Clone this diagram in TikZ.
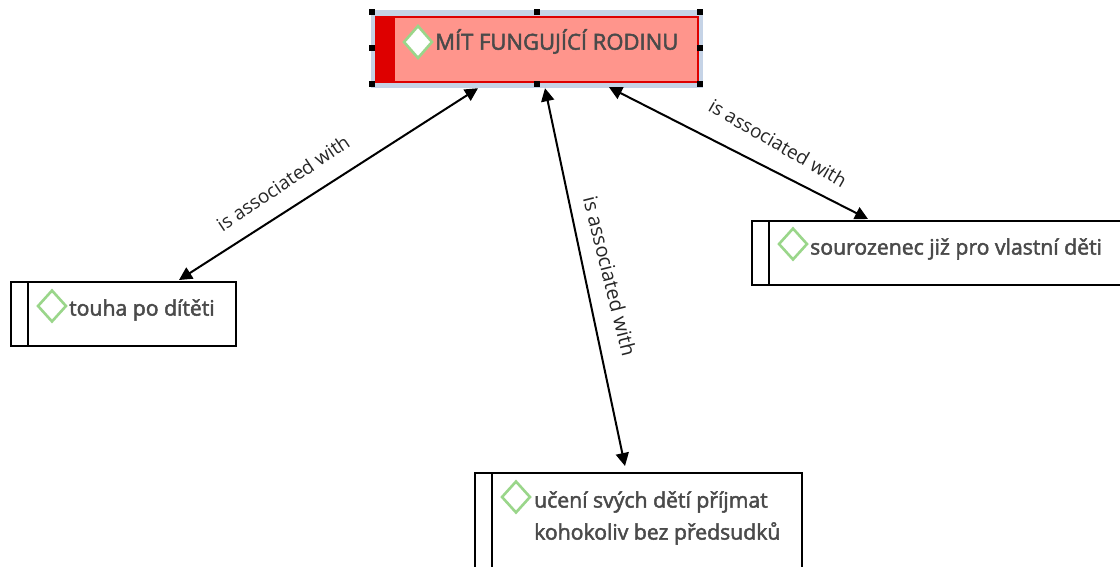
\documentclass[tikz,border=0pt]{standalone}
\usepackage{fontspec}
\setmainfont{Open Sans}
\newfontfamily\boxfont[FakeBold=2.2]{Open Sans}
\usetikzlibrary{arrows.meta,calc,shapes.geometric}
\definecolor{selblue}{HTML}{C5D3E6}
\definecolor{redbar}{HTML}{DE0000}
\definecolor{redfill}{HTML}{FF958C}
\definecolor{diag}{HTML}{9AD68A}
\definecolor{txt}{HTML}{4A4A4A}
\tikzset{
  x=1pt,y=-1pt,
  mapbox/.style={draw=black,line width=2pt,fill=white,rectangle,inner sep=0pt},
  handle/.style={fill=black,rectangle,inner sep=0pt,minimum size=6pt},
  gem/.style={diamond,draw=diag,line width=2.6pt,fill=white,inner sep=0pt,minimum width=29pt,minimum height=32pt,aspect=1},
  boxtext/.style={anchor=west,text=txt,font=\boxfont\fontsize{21.2}{32}\selectfont,inner sep=0pt,align=left},
  link/.style={draw=black,line width=2pt,{Triangle[length=13pt,width=13pt]}-{Triangle[length=13pt,width=13pt]}},
  linktext/.style={text=black!85,font=\fontsize{19}{22}\selectfont,inner sep=0pt},
  bar/.style={draw=black,line width=2pt}
}
\begin{document}
\begin{tikzpicture}
\useasboundingbox (0,0) rectangle (1120,566);
\clip (0,0) rectangle (1120,566);
% main node
\node[rectangle,fill=selblue,minimum width=332pt,minimum height=78pt,inner sep=0pt] (sel) at (537,49) {};
\node[rectangle,draw=redbar,line width=2pt,fill=redfill,minimum width=322pt,minimum height=65pt,inner sep=0pt] (main) at (537,49) {};
\fill[redbar] (main.north west) rectangle ($(main.south west)+(20,0)$);
\foreach \n/\px/\py in {h1/372/12,h2/537/12,h3/700/12,h4/372/48,h5/700/48,h6/372/84,h7/537/84,h8/700/84}
  \node[handle] (\n) at (\px,\py) {};
\node[gem,minimum width=29pt,minimum height=33pt] (gm) at (418,42) {};
\node[boxtext,font=\boxfont\fontsize{22}{29}\selectfont] (tm) at (435,41.5) {MÍT FUNGUJÍCÍ RODINU};
% left node
\node[mapbox,minimum width=225pt,minimum height=64pt] (left) at (123.5,314) {};
\draw[bar] ($(left.north west)+(18,0)$) -- ($(left.south west)+(18,0)$);
\node[gem] (gl) at (52,306) {};
\node[boxtext] (tl) at (69,310) {touha po dítěti};
% right node
\node[mapbox,minimum width=372pt,minimum height=64pt] (right) at (938,253) {};
\draw[bar] ($(right.north west)+(18,0)$) -- ($(right.south west)+(18,0)$);
\node[gem] (gr) at (793,244) {};
\node[boxtext] (tr) at (810,249) {sourozenec již pro vlastní děti};
% bottom node
\node[mapbox,minimum width=327pt,minimum height=120pt] (bottom) at (638.5,533) {};
\draw[bar] ($(bottom.north west)+(18,0)$) -- ($(bottom.south west)+(18,0)$);
\node[gem] (gb) at (516,497) {};
\node[boxtext] (tb) at (534,518) {učení svých dětí příjmat\\kohokoliv bez předsudků};
% connectors
\draw[link] ($(sel.south)+(-59,0)$) -- ($(left.north)+(55.5,-1)$);
\draw[link] ($(sel.south)+(8,0)$) -- ($(bottom.north)+(-13.5,-6)$);
\draw[link] ($(sel.south)+(72,-1)$) -- ($(right.north)+(-70,-1)$);
\node[linktext,rotate=34] (l1) at (283,183) {is associated with};
\node[linktext,rotate=-76,font=\fontsize{20}{22}\selectfont] (l2) at (610,276) {is associated with};
\node[linktext,rotate=-30] (l3) at (778,143) {is associated with};
\end{tikzpicture}
\end{document}
